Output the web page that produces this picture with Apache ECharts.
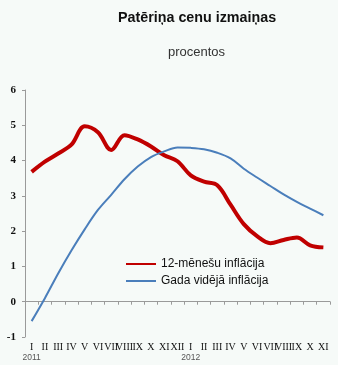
<!DOCTYPE html>
<html>
<head>
<meta charset="utf-8">
<script src="https://cdn.jsdelivr.net/npm/echarts@6/dist/echarts.min.js"></script>
<style>
html,body{margin:0;padding:0;background:#f6faf8;}
#c{width:338px;height:365px;}
</style>
</head>
<body>
<div id="c"></div>
<script>
var months = ['I','II','III','IV','V','VI','VII','VIII','IX','X','XI','XII','I','II','III','IV','V','VI','VII','VIII','IX','X','XI'];
var years = {0:'2011', 12:'2012'};
var inflation12m = [3.68,3.97,4.2,4.45,4.97,4.8,4.3,4.72,4.6,4.4,4.15,3.98,3.58,3.4,3.3,2.75,2.2,1.86,1.66,1.75,1.82,1.6,1.54];
var inflationAvg = [-0.55,0.1,0.8,1.45,2.05,2.6,3.03,3.47,3.83,4.1,4.26,4.37,4.36,4.32,4.22,4.06,3.77,3.52,3.28,3.04,2.83,2.64,2.45];
var seriesNames = ['12-mēnešu inflācija','Gada vidējā inflācija'];

var chart = echarts.init(document.getElementById('c'));
chart.setOption({
  backgroundColor: '#f6faf8',
  animation: false,
  title: [
    {text: 'Patēriņa cenu izmaiņas', left: 118, top: 11, padding: 0,
     textStyle: {fontFamily: 'Liberation Sans', fontSize: 14.3, fontWeight: 'bold', color: '#111'}},
    {text: 'procentos', left: 168, top: 46, padding: 0,
     textStyle: {fontFamily: 'Liberation Sans', fontSize: 13, fontWeight: 'normal', color: '#333'}}
  ],
  legend: {
    orient: 'vertical', left: 125, top: 258, itemWidth: 30, itemHeight: 14, itemGap: 5, padding: 0,
    data: seriesNames,
    itemStyle: {opacity: 0},
    textStyle: {fontFamily: 'Liberation Sans', fontSize: 12, color: '#111'}
  },
  grid: {left: 25, right: 8, top: 90, bottom: 28, containLabel: false, outerBoundsMode: 'none'},
  xAxis: {
    type: 'category', data: months, boundaryGap: true,
    axisLine: {onZero: true, lineStyle: {color: '#9a9a9a', width: 1}},
    axisTick: {show: true, length: 3, lineStyle: {color: '#9a9a9a'}},
    axisLabel: {
      interval: 0, margin: 5, hideOverlap: false,
      formatter: function (v, i) {
        return years[i] ? '{m|' + v + '}\n{y|' + years[i] + '}' : '{m|' + v + '}';
      },
      rich: {
        m: {fontFamily: 'Liberation Serif', fontSize: 10, color: '#111', lineHeight: 11},
        y: {fontFamily: 'Liberation Sans', fontSize: 8.5, color: '#555', lineHeight: 10}
      }
    },
    splitLine: {show: false}
  },
  yAxis: {
    type: 'value', min: -1, max: 6, interval: 1,
    axisLine: {show: true, lineStyle: {color: '#9a9a9a'}},
    axisTick: {show: true, length: 3, lineStyle: {color: '#9a9a9a'}},
    axisLabel: {fontFamily: 'Liberation Serif', fontSize: 11, fontWeight: 'bold', color: '#111', margin: 9},
    splitLine: {show: false}
  },
  series: [
    {name: seriesNames[0], type: 'line', data: inflation12m, smooth: 0.35, symbol: 'none',
     lineStyle: {color: '#c00000', width: 4}, itemStyle: {color: '#c00000'}},
    {name: seriesNames[1], type: 'line', data: inflationAvg, smooth: 0.35, symbol: 'none',
     lineStyle: {color: '#4a7ebb', width: 2}, itemStyle: {color: '#4a7ebb'}}
  ]
});
</script>
</body>
</html>
